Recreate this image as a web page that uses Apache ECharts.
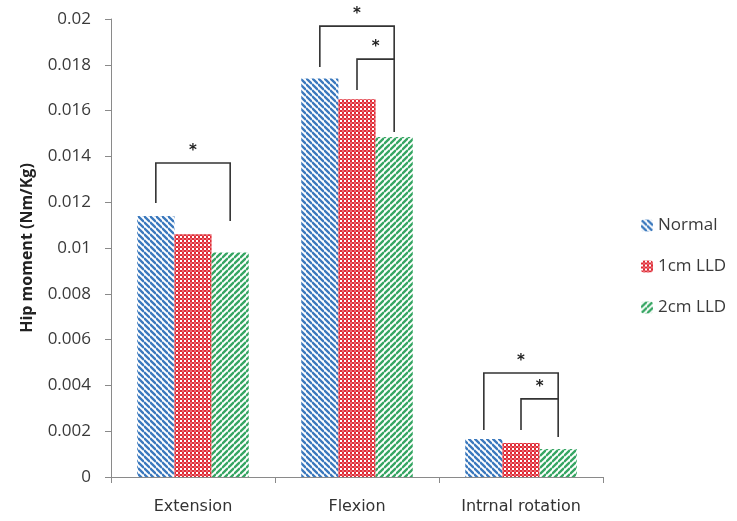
<!DOCTYPE html>
<html lang="en">
<head>
    <meta charset="UTF-8">
    <title>Hip moment</title>
    <script src="https://cdn.jsdelivr.net/npm/echarts@6/dist/echarts.min.js"></script>
    <style>
        body { margin: 0; padding: 0; overflow: hidden; background: #fff; }
    </style>
</head>
<body>
<div id="main" style="width:737px;height:521px;"></div>
<script>
    // data
    var categories = ['Extension', 'Flexion', 'Intrnal rotation'];
    var seriesNames = ['Normal', '1cm LLD', '2cm LLD'];
    var normal = [0.0114, 0.0174, 0.00166];
    var lld1 = [0.0106, 0.0165, 0.00148];
    var lld2 = [0.0098, 0.01485, 0.00122];
    // significance brackets: [category, fromSeries, toSeries, top, leftEnd, rightEnd]
    var brackets = [
        [0, 0, 2, 0.01371, 0.01196, 0.01118],
        [1, 0, 2, 0.01969, 0.0179, 0.01507],
        [1, 1, 2, 0.01825, 0.0169, 0.01825],
        [2, 0, 2, 0.00454, 0.00205, 0.00175],
        [2, 1, 2, 0.00341, 0.00205, 0.00341]
    ];

    function stripes(color, back, dir) {
        var s = 6;
        var c = document.createElement('canvas');
        c.width = s; c.height = s;
        var ctx = c.getContext('2d');
        ctx.fillStyle = back;
        ctx.fillRect(0, 0, s, s);
        ctx.strokeStyle = color;
        ctx.lineWidth = 2.3;
        for (var k = -1; k <= 1; k++) {
            ctx.beginPath();
            if (dir > 0) { // "\\"
                ctx.moveTo(0, k * s);
                ctx.lineTo(s, s + k * s);
            } else { // "//"
                ctx.moveTo(0, s + k * s);
                ctx.lineTo(s, k * s);
            }
            ctx.stroke();
        }
        return { image: c, repeat: 'repeat' };
    }

    function dots(color, back) {
        var s = 4;
        var c = document.createElement('canvas');
        c.width = s; c.height = s;
        var ctx = c.getContext('2d');
        ctx.fillStyle = color;
        ctx.fillRect(0, 0, s, s);
        ctx.fillStyle = back;
        ctx.fillRect(0, 0, 2, 2);
        ctx.fillStyle = 'rgba(255,255,255,0.3)';
        ctx.fillRect(2, 2, 2, 2);
        return { image: c, repeat: 'repeat' };
    }

    var fills = [
        stripes('#3a78bd', '#ffffff', 1),
        dots('#e02a35', '#ffffff'),
        stripes('#35a562', '#ffffff', -1)
    ];

    var app = echarts.init(document.getElementById('main'));

    var catGap = 0.32;
    var font = 'Open Sans';

    var option = {
        animation: false,
        legend: {
            orient: 'vertical',
            left: 636,
            top: 212,
            itemWidth: 12,
            itemHeight: 12,
            itemGap: 24,
            textStyle: { fontSize: 17, color: '#3a3a3a', fontFamily: font },
            data: seriesNames
        },
        grid: { left: 111, right: 134, top: 19, bottom: 44 },
        xAxis: {
            type: 'category',
            data: categories,
            axisLine: { lineStyle: { color: '#8a8a8a' } },
            axisTick: { show: true, length: 6, lineStyle: { color: '#8a8a8a' } },
            axisLabel: { fontSize: 16, color: '#333', margin: 22, fontFamily: 'DejaVu Sans' }
        },
        yAxis: {
            type: 'value',
            min: 0,
            max: 0.02,
            interval: 0.002,
            name: 'Hip moment (Nm/Kg)',
            nameLocation: 'middle',
            nameGap: 76,
            nameTextStyle: { fontSize: 16, fontWeight: 'bold', color: '#222', fontFamily: font },
            axisLine: { show: true, lineStyle: { color: '#8a8a8a' } },
            axisTick: { show: true, length: 6, lineStyle: { color: '#8a8a8a' } },
            splitLine: { show: false },
            axisLabel: { fontSize: 17, color: '#3a3a3a', margin: 20, fontFamily: font }
        },
        series: [
            { name: seriesNames[0], type: 'bar', data: normal, barGap: 0, barCategoryGap: catGap * 100 + '%', itemStyle: { color: fills[0] } },
            { name: seriesNames[1], type: 'bar', data: lld1, itemStyle: { color: fills[1] } },
            { name: seriesNames[2], type: 'bar', data: lld2, itemStyle: { color: fills[2] } },
            {
                type: 'custom',
                silent: true,
                data: brackets,
                encode: { x: 0, y: 3 },
                renderItem: function(params, api) {
                    var cat = api.value(0);
                    var band = api.size([1, 0])[0];
                    var bw = band * (1 - catGap) / 3;
                    var center = api.coord([cat, 0])[0];
                    var x0 = center + (api.value(1) - 1) * bw;
                    var x1 = center + (api.value(2) - 1) * bw;
                    var yTop = api.coord([cat, api.value(3)])[1];
                    var yL = api.coord([cat, api.value(4)])[1];
                    var yR = api.coord([cat, api.value(5)])[1];
                    return {
                        type: 'group',
                        children: [{
                            type: 'polyline',
                            shape: { points: [[x0, yL], [x0, yTop], [x1, yTop], [x1, yR]] },
                            style: { stroke: '#333', lineWidth: 1.6, fill: null }
                        }, {
                            type: 'text',
                            style: {
                                text: '*',
                                x: (x0 + x1) / 2,
                                y: yTop - 4,
                                fontSize: 15,
                                fontWeight: 'bold',
                                fill: '#222',
                                align: 'center',
                                verticalAlign: 'bottom',
                                fontFamily: 'DejaVu Sans'
                            }
                        }]
                    };
                }
            }
        ]
    };
    app.setOption(option);
</script>
</body>
</html>
